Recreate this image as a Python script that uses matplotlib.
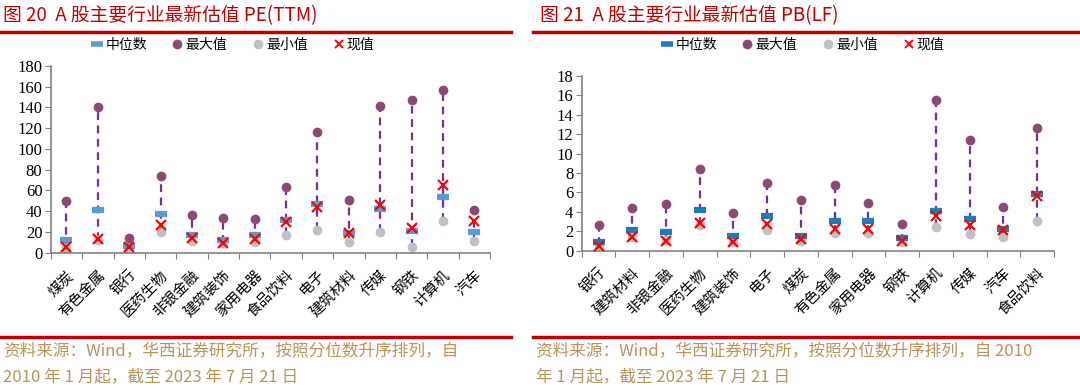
import numpy as np
import matplotlib.pyplot as plt
from matplotlib.lines import Line2D
from matplotlib import font_manager

plt.rcParams['font.family'] = ['Noto Sans CJK SC', 'DejaVu Sans']

# PE(TTM)
pe_cats = ['煤炭', '有色金属', '银行', '医药生物', '非银金融', '建筑装饰', '家用电器',
           '食品饮料', '电子', '建筑材料', '传媒', '钢铁', '计算机', '汽车']
pe_med = [12.2, 41, 6.5, 37.6, 16.8, 12.2, 16.8, 31.5, 46.6, 18.7, 41.8, 21.2, 53.7, 20]
pe_max = [49.8, 140.5, 13.8, 74, 36.7, 33.8, 32.2, 63, 116, 50.8, 141.5, 147, 157, 41]
pe_min = [4.5, 12, 4.5, 20.3, 11.6, 9, 10.6, 16.8, 22, 10.3, 20.3, 5.8, 30.6, 11]
pe_cur = [5.8, 13.5, 5.2, 26.4, 13.8, 9.7, 13.5, 30, 44, 19, 45.7, 23.5, 65.6, 30.3]

# PB(LF)
pb_cats = ['银行', '建筑材料', '非银金融', '医药生物', '建筑装饰', '电子', '煤炭',
           '有色金属', '家用电器', '钢铁', '计算机', '传媒', '汽车', '食品饮料']
pb_med = [0.86, 2.13, 1.9, 4.23, 1.45, 3.55, 1.45, 3.03, 3.03, 1.25, 4.12, 3.27, 2.27, 5.81]
pb_max = [2.65, 4.4, 4.78, 8.4, 3.9, 6.95, 5.26, 6.8, 4.85, 2.76, 15.5, 11.4, 4.5, 12.68]
pb_min = [0.6, 1.4, 1.1, 2.6, 0.85, 2.1, 1.0, 1.76, 1.8, 0.85, 2.47, 1.69, 1.38, 3.03]
pb_cur = [0.48, 1.38, 1.03, 2.8, 0.83, 2.75, 1.18, 2.24, 2.24, 0.97, 3.6, 2.65, 2.13, 5.67]

RED = '#c00000'
TAN = '#b8935a'
PURPLE = '#8b4a76'
GRAY = '#c0c0c0'
LINE = '#7030a0'

serif = font_manager.FontProperties(family=['Liberation Serif', 'DejaVu Serif'], size=12)

fig = plt.figure(figsize=(10.8, 3.89), dpi=100)


def panel(rect, cats, med, mx, mn, cur, ymax, step, med_color):
    ax = fig.add_axes(rect)
    x = np.arange(len(cats))
    ax.vlines(x, mn, mx, colors=LINE, linestyles=(0, (3.5, 2.5)), lw=1.6, zorder=1)
    ax.plot(x, mn, 'o', color=GRAY, ms=6, zorder=2)
    ax.plot(x, med, '_', color=med_color, ms=9, mew=4.5, zorder=3)
    ax.plot(x, mx, 'o', color=PURPLE, ms=6, zorder=4)
    ax.plot(x, cur, 'x', color='red', ms=7, mew=1.6, zorder=5)
    ax.set_xlim(-0.5, len(cats) - 0.5)
    ax.set_ylim(0, ymax)
    yt = np.arange(0, ymax + step, step)
    ax.set_yticks(yt)
    ax.set_yticklabels([str(v) for v in yt], fontproperties=serif)
    ax.set_xticks(np.arange(-0.5, len(cats), 1.0))
    ax.set_xticklabels([])
    ax.set_xticks(x, minor=True)
    ax.set_xticklabels(cats, minor=True, rotation=45, ha='right', va='top',
                       rotation_mode='anchor', fontsize=10.5)
    ax.tick_params(axis='x', which='minor', length=0, pad=11)
    ax.tick_params(axis='x', which='major', length=4, color='#808080')
    ax.tick_params(axis='y', length=4, color='#808080', pad=2)
    for s in ['top', 'right']:
        ax.spines[s].set_visible(False)
    for s in ['left', 'bottom']:
        ax.spines[s].set_color('#808080')
        ax.spines[s].set_linewidth(1.2)
    return ax


panel([0.047, 0.3504, 0.4067, 0.48], pe_cats, pe_med, pe_max, pe_min, pe_cur, 180, 20, '#5b9bd5')
panel([0.5386, 0.356, 0.4373, 0.4486], pb_cats, pb_med, pb_max, pb_min, pb_cur, 18, 2, '#1a7fb8')


def legend(cx, med_color):
    handles = [Line2D([], [], ls='', marker='_', color=med_color, ms=8, mew=4),
               Line2D([], [], ls='', marker='o', color=PURPLE, ms=6),
               Line2D([], [], ls='', marker='o', color=GRAY, ms=6),
               Line2D([], [], ls='', marker='x', color='red', ms=6, mew=1.4)]
    fig.legend(handles, ['中位数', '最大值', '最小值', '现值'], loc='center',
               bbox_to_anchor=(cx, 1 - 45 / 389), ncol=4, frameon=False,
               fontsize=10, handlelength=0.8, handletextpad=0.2, columnspacing=1.8)


legend(233 / 1080, '#5b9bd5')
legend(803 / 1080, '#1a7fb8')

# titles and rules
fig.text(3 / 1080, 1 - 16 / 389, '图 20  A 股主要行业最新估值 PE(TTM)', color=RED,
         fontsize=13.5, va='center', ha='left')
fig.text(540 / 1080, 1 - 16 / 389, '图 21  A 股主要行业最新估值 PB(LF)', color=RED,
         fontsize=13.5, va='center', ha='left')
for x0, x1 in [(0, 511), (533, 1080)]:
    for y in [32, 336.5]:
        fig.add_artist(Line2D([x0 / 1080, x1 / 1080], [1 - y / 389, 1 - y / 389],
                              color=RED, lw=2.5))

fig.text(3 / 1080, 1 - 352 / 389, '资料来源：Wind，华西证券研究所，按照分位数升序排列，自',
         color=TAN, fontsize=12, va='center', ha='left')
fig.text(3 / 1080, 1 - 377 / 389, '2010 年 1 月起，截至 2023 年 7 月 21 日',
         color=TAN, fontsize=12, va='center', ha='left')
fig.text(536 / 1080, 1 - 352 / 389, '资料来源：Wind，华西证券研究所，按照分位数升序排列，自 2010',
         color=TAN, fontsize=12, va='center', ha='left')
fig.text(536 / 1080, 1 - 377 / 389, '年 1 月起，截至 2023 年 7 月 21 日',
         color=TAN, fontsize=12, va='center', ha='left')

fig.savefig('out.png', dpi=100)
